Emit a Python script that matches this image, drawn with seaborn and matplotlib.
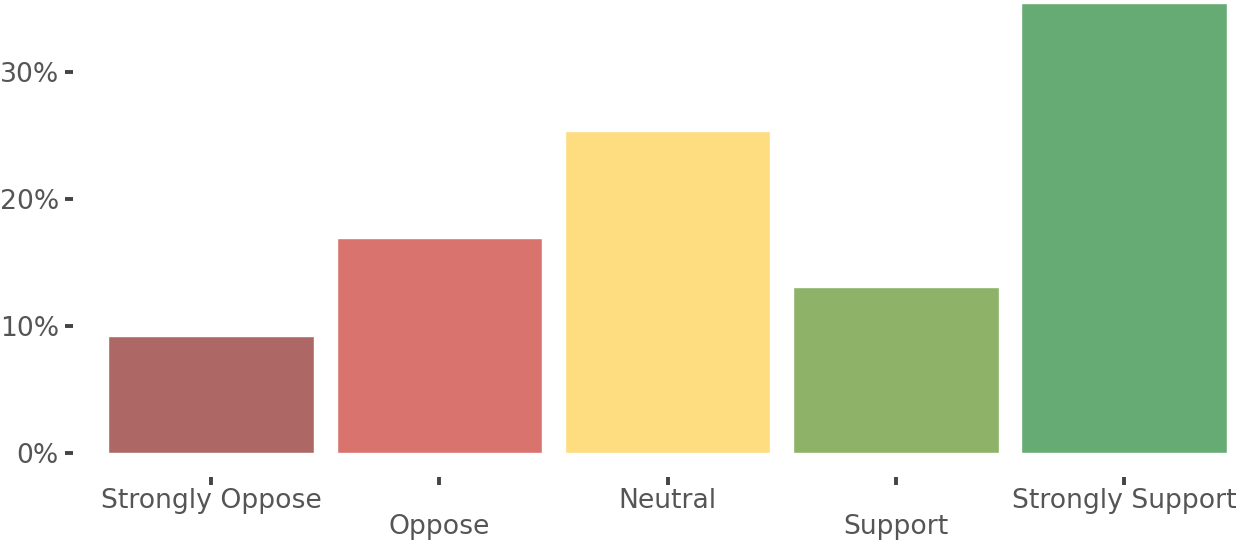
import matplotlib
matplotlib.use("Agg")
import matplotlib.pyplot as plt
from matplotlib.ticker import PercentFormatter
import pandas as pd
import seaborn as sns

# data
categories = ["Strongly Oppose", "Oppose", "Neutral", "Support", "Strongly Support"]
shares = [9.25, 16.95, 25.35, 13.05, 35.45]
colors = ["#AD6866", "#D9736D", "#FDDD80", "#8DB268", "#67AB74"]

df = pd.DataFrame({"response": categories, "share": shares})

sns.set_style("white")
plt.rcParams["font.family"] = ["DejaVu Sans"]

W, H = 1236, 541
fig = plt.figure(figsize=(W / 100, H / 100), dpi=100)
ax = fig.add_axes([97 / W, 1 - 453 / H, (W - 97) / W, 453 / H])

sns.barplot(data=df, x="response", y="share", hue="response",
            palette=dict(zip(categories, colors)), width=0.9,
            legend=False, saturation=1, ax=ax)

ax.set_xlim(-0.5, 4.49)
ax.set_ylim(0, 35.67)
ax.set_yticks([0, 10, 20, 30])
ax.yaxis.set_major_formatter(PercentFormatter(100, decimals=0))
ax.set_xlabel("")
ax.set_ylabel("")

# offset the axes like a despined chart, then hide the lines
sns.despine(ax=ax, left=False, bottom=False, offset=17)
for side in ["left", "bottom"]:
    ax.spines[side].set_visible(False)

ax.tick_params(axis="both", which="major", length=5.5, width=2.8,
               color="#444444", labelcolor="#555555", labelsize=19.2,
               left=True, bottom=True)
ax.tick_params(axis="y", pad=5)
ax.tick_params(axis="x", pad=3)

# stagger every second label
for i, tick in enumerate(ax.xaxis.get_major_ticks()):
    if i % 2 == 1:
        tick.set_pad(3 + 18.5)

fig.savefig("out.png", dpi=100)
